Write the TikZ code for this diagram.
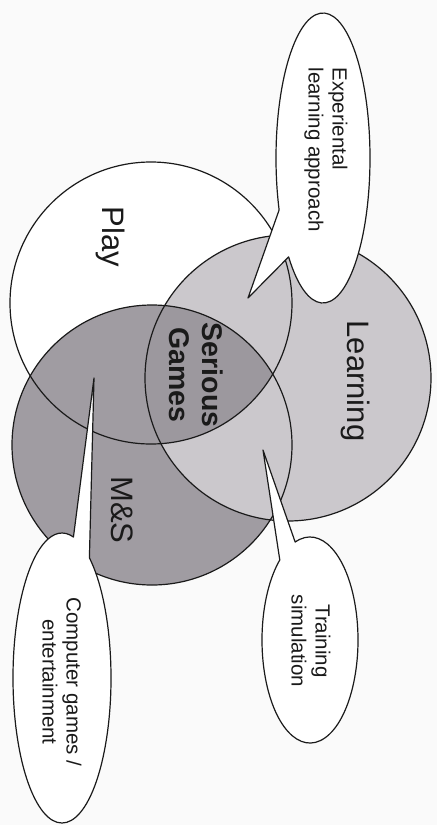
\documentclass[tikz,border=0pt]{standalone}
\usepackage{fontspec}
\setmainfont{Liberation Sans}
\usetikzlibrary{calc}
\definecolor{bgcol}{HTML}{FAFAFA}
\definecolor{msgray}{HTML}{A09CA2}
\definecolor{lgray}{HTML}{CBC8CC}
\definecolor{sggray}{HTML}{9C989E}
\definecolor{ink}{HTML}{1A1A1A}
\begin{document}
\begin{tikzpicture}[x=1pt,y=-1pt,line width=1.2pt,
  outline/.style={draw=ink},
  callout/.style={draw=ink,fill=white,line join=round},
  big/.style={font=\fontsize{31}{34}\selectfont,text=ink,inner sep=0pt,rotate=-90},
  bigb/.style={font=\fontsize{28.5}{33}\selectfont\bfseries,text=ink,inner sep=0pt,rotate=-90,align=center},
  small/.style={font=\fontsize{20.5}{24}\selectfont,text=ink,inner sep=0pt,rotate=-90}]
\useasboundingbox (0,0) rectangle (437,825);
\fill[bgcol] (0,0) rectangle (437,825);
\coordinate (P) at (151,303);
\coordinate (M) at (152,445);
\coordinate (L) at (288,378);
% fills
\fill[white] (P) circle[radius=141];
\fill[msgray] (M) circle[radius=140];
\fill[lgray] (L) circle[radius=143];
\begin{scope}
  \clip (P) circle[radius=141];
  \clip (M) circle[radius=140];
  \fill[sggray] (L) circle[radius=143];
\end{scope}
% outlines
\draw[outline] (P) circle[radius=141];
\draw[outline] (M) circle[radius=140];
\draw[outline] (L) circle[radius=143];
% callouts
\coordinate (E1) at (323,158);
\coordinate (T1) at (248,298);
\draw[callout] (T1) -- ($(E1)+(137:47 and 145)$)
  arc[start angle=137,end angle=-201,x radius=47,y radius=145] -- cycle;
\coordinate (E2) at (310,640);
\coordinate (T2) at (263,450);
\draw[callout] (T2) -- ($(E2)+(-108:48 and 103)$)
  arc[start angle=-108,end angle=231,x radius=48,y radius=103] -- cycle;
\coordinate (E3) at (62,678);
\coordinate (T3) at (94,378);
\draw[callout] (T3) -- ($(E3)+(-56:49 and 145)$)
  arc[start angle=-56,end angle=283.5,x radius=49,y radius=145] -- cycle;
% labels
\node[big] (learning) at (356,381) {Learning};
\node[big] (play) at (111,237) {Play};
\node[big] (ms) at (122,510) {M\&S};
\node[bigb] (sg) at (196,375) {Serious\\Games};
\node[small,align=left,anchor=north west] (c1) at (348,67) {Experiental\\learning approach};
\node[small,align=center] (c2) at (311,641) {Training\\simulation};
\node[small,align=center] (c3) at (62,682) {Computer games /\\entertainment};
\end{tikzpicture}
\end{document}
